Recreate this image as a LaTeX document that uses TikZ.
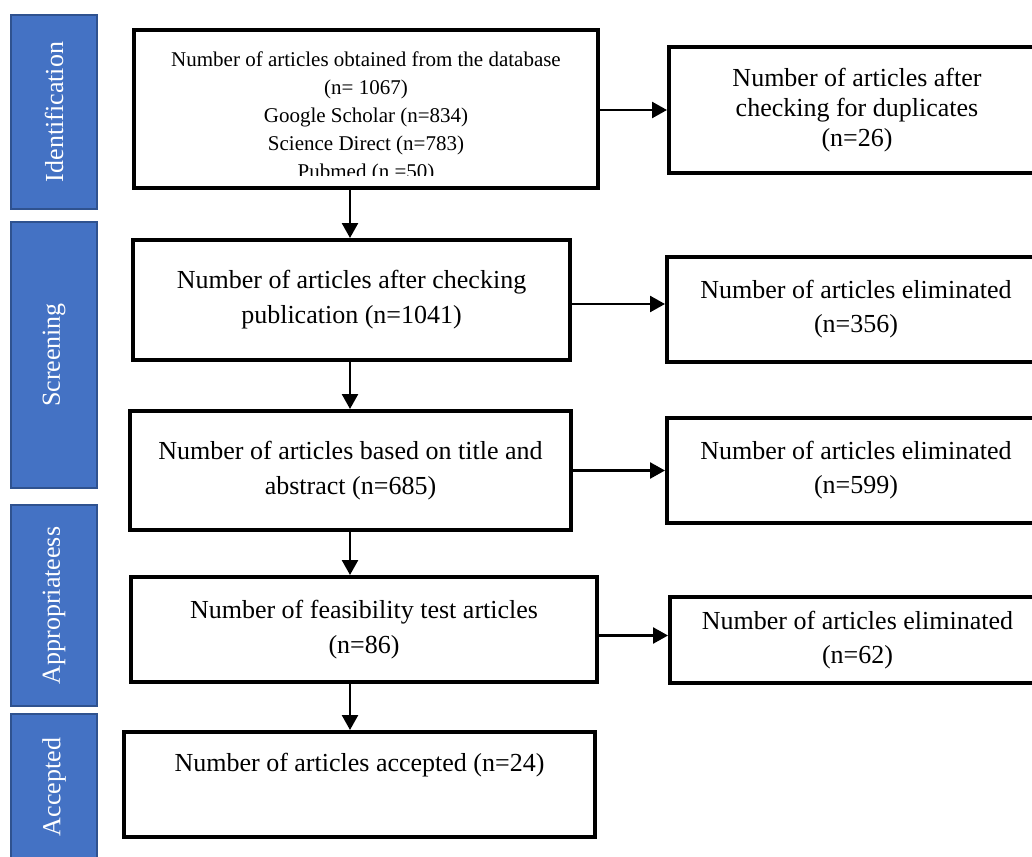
\documentclass[tikz,border=0pt]{standalone}
\usepackage{fontspec}
\setmainfont{Liberation Serif}
\usetikzlibrary{arrows.meta,calc}
\definecolor{barfill}{HTML}{4472C4}
\definecolor{barline}{HTML}{2F528F}
\begin{document}
\begin{tikzpicture}[x=1pt,y=-1pt,
  box/.style={draw=black,line width=4pt,rectangle,inner sep=0pt,align=center,font=\fontsize{26}{35}\selectfont},
  bar/.style={draw=barline,fill=barfill,line width=1.5pt,inner sep=0pt,text=white,rotate=90,minimum height=86pt,font=\fontsize{26}{30}\selectfont},
  arr/.style={line width=2.5pt,-{Triangle[length=15pt,width=16pt]}},
]
\useasboundingbox (0,0) rectangle (1032,856);

% phase bars
\node[bar,minimum width=194pt] (p1) at (54,112) {Identification};
\node[bar,minimum width=266pt] (p2) at (54,355) {Screening};
\node[bar,minimum width=201pt] (p3) at (54,605.5) {Appropriateess};
\node[bar,minimum width=146pt] (p4) at (54,787) {Accepted};

% top box text (clipped at the bottom as in the source)
\begin{scope}
\clip (134,30) rectangle (598,175.5);
\node[font=\fontsize{21}{28}\selectfont,align=center,inner sep=0pt] (b1t) at (366,117)
  {Number of articles obtained from the database\\(n= 1067)\\Google Scholar (n=834)\\Science Direct (n=783)\\Pubmed (n =50)};
\end{scope}
\node[box,minimum width=464pt,minimum height=158pt] (b1) at (366,109) {};

\node[box,minimum width=437pt,minimum height=120pt] (b2) at (351.5,300)
  {Number of articles after checking\\publication (n=1041)};
\node[box,minimum width=441pt,minimum height=119pt] (b3) at (350.5,470.5)
  {Number of articles based on title and\\abstract (n=685)};
\node[box,minimum width=466pt,minimum height=105pt] (b4) at (364,629.5)
  {Number of feasibility test articles\\(n=86)};
\node[box,minimum width=471pt,minimum height=105pt] (b5) at (359.5,784.5)
  {Number of articles accepted (n=24)\\[10pt]\mbox{}};

\node[box,minimum width=376pt,minimum height=126pt,font=\fontsize{26}{30}\selectfont] (r1) at (857,110)
  {Number of articles after\\checking for duplicates\\(n=26)};
\node[box,minimum width=378pt,minimum height=105pt,font=\fontsize{26}{34}\selectfont] (r2) at (856,309.5)
  {Number of articles eliminated\\(n=356)};
\node[box,minimum width=378pt,minimum height=105pt,font=\fontsize{26}{34}\selectfont] (r3) at (856,470.5)
  {Number of articles eliminated\\(n=599)};
\node[box,minimum width=375pt,minimum height=86pt,font=\fontsize{26}{34}\selectfont] (r4) at (857.5,640)
  {Number of articles eliminated\\(n=62)};

% vertical connectors
\coordinate (col) at (350,0);
\draw[arr] (b1.south -| col) -- (b2.north -| col);
\draw[arr] (b2.south -| col) -- (b3.north -| col);
\draw[arr] (b3.south -| col) -- (b4.north -| col);
\draw[arr] (b4.south -| col) -- (b5.north -| col);

% horizontal connectors
\draw[arr] (b1.east |- r1.west) -- (r1.west);
\coordinate (a2) at ($(b2.east)+(0,4)$);
\draw[arr] (a2) -- (a2 -| r2.west);
\draw[arr] (b3.east) -- (b3.east -| r3.west);
\coordinate (a4) at ($(b4.east)+(0,6)$);
\draw[arr] (a4) -- (a4 -| r4.west);
\end{tikzpicture}
\end{document}
